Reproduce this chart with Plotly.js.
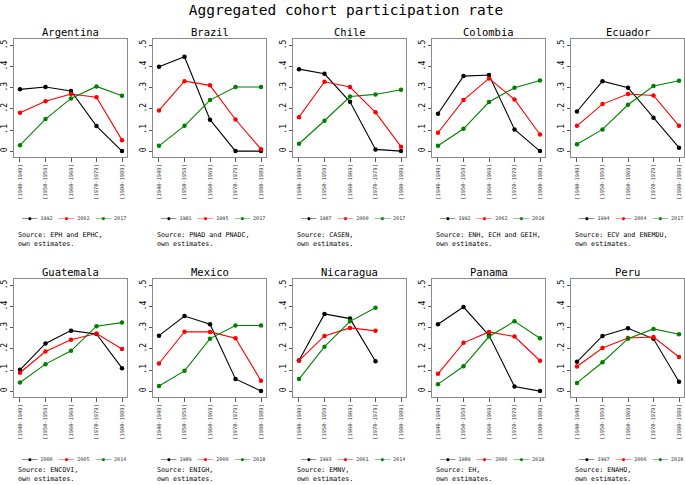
<!DOCTYPE html>
<html>
<head>
<meta charset="utf-8">
<script src="https://cdn.plot.ly/plotly-3.0.1.min.js"></script>
<style>html,body{margin:0;padding:0;background:#fff;}#chart{width:685px;height:485px;}</style>
</head>
<body>
<div id="chart"></div>
<script>
// ---------- data ----------
const cohorts = ["[1940-1949]", "[1950-1959]", "[1960-1969]", "[1970-1979]", "[1980-1989]"];
const yTickVals = [0, 0.1, 0.2, 0.3, 0.4, 0.5];
const yTickText = ["0", ".1", ".2", ".3", ".4", ".5"];
const seriesColors = ["#000000", "#ff0000", "#008000"];
const chartTitle = "Aggregated cohort participation rate";

const countries = ["Argentina", "Brazil", "Chile", "Colombia", "Ecuador",
                   "Guatemala", "Mexico", "Nicaragua", "Panama", "Peru"];

const argentinaYears = ["1992", "2002", "2017"];
const argentinaValues = [
  [0.293, 0.304, 0.285, 0.119, 0.000],
  [0.182, 0.237, 0.271, 0.256, 0.052],
  [0.028, 0.152, 0.250, 0.307, 0.263]];
const brazilYears = ["1981", "1995", "2017"];
const brazilValues = [
  [0.400, 0.448, 0.149, 0.000, 0.000],
  [0.193, 0.332, 0.312, 0.150, 0.009],
  [0.025, 0.120, 0.242, 0.304, 0.304]];
const chileYears = ["1987", "2000", "2017"];
const chileValues = [
  [0.389, 0.367, 0.234, 0.008, 0.000],
  [0.161, 0.329, 0.304, 0.184, 0.021],
  [0.035, 0.144, 0.259, 0.269, 0.291]];
const colombiaYears = ["1992", "2002", "2018"];
const colombiaValues = [
  [0.177, 0.356, 0.361, 0.103, 0.000],
  [0.087, 0.242, 0.345, 0.245, 0.079],
  [0.025, 0.106, 0.233, 0.301, 0.335]];
const ecuadorYears = ["1994", "2004", "2017"];
const ecuadorValues = [
  [0.188, 0.332, 0.301, 0.158, 0.016],
  [0.120, 0.223, 0.271, 0.264, 0.120],
  [0.033, 0.103, 0.220, 0.309, 0.334]];
const guatemalaYears = ["2000", "2005", "2014"];
const guatemalaValues = [
  [0.101, 0.226, 0.287, 0.271, 0.109],
  [0.087, 0.188, 0.244, 0.273, 0.200],
  [0.041, 0.128, 0.191, 0.308, 0.325]];
const mexicoYears = ["1989", "2000", "2018"];
const mexicoValues = [
  [0.263, 0.356, 0.317, 0.058, 0.000],
  [0.131, 0.282, 0.281, 0.251, 0.049],
  [0.024, 0.096, 0.249, 0.311, 0.311]];
const nicaraguaYears = ["1993", "2001", "2014"];
const nicaraguaValues = [
  [0.145, 0.366, 0.344, 0.142],
  [0.145, 0.262, 0.300, 0.286],
  [0.057, 0.211, 0.331, 0.396]];
const panamaYears = ["1989", "2006", "2018"];
const panamaValues = [
  [0.317, 0.399, 0.265, 0.022, 0.000],
  [0.082, 0.229, 0.281, 0.259, 0.144],
  [0.033, 0.118, 0.259, 0.331, 0.251]];
const peruYears = ["1997", "2006", "2018"];
const peruValues = [
  [0.139, 0.262, 0.298, 0.248, 0.044],
  [0.117, 0.204, 0.252, 0.257, 0.162],
  [0.039, 0.137, 0.249, 0.295, 0.270]];

const sourceNotes = [
  "Source: EPH and EPHC,", "Source: PNAD and PNADC,", "Source: CASEN,",
  "Source: ENH, ECH and GEIH,", "Source: ECV and ENEMDU,", "Source: ENCOVI,",
  "Source: ENIGH,", "Source: EMNV,", "Source: EH,", "Source: ENAHO,"];
const sourceSuffix = "own estimates.";

// ---------- build ----------
const yearsList = [argentinaYears, brazilYears, chileYears, colombiaYears, ecuadorYears,
  guatemalaYears, mexicoYears, nicaraguaYears, panamaYears, peruYears];
const valuesList = [argentinaValues, brazilValues, chileValues, colombiaValues, ecuadorValues,
  guatemalaValues, mexicoValues, nicaraguaValues, panamaValues, peruValues];

const W = 685, H = 485;
const colLeftPx = [14, 153, 293, 432, 571];
const boxW = 113;
const rowTopPx = [39, 279], rowBotPx = [157, 397];
const titleYPx = [32, 272];
const legendYPx = [218, 459];
const sourceYPx = [239, 474];
const mono = "DejaVu Sans Mono";

const traces = [];
const layout = {
  width: W, height: H,
  margin: {l: 0, r: 0, t: 0, b: 0},
  paper_bgcolor: "#ffffff", plot_bgcolor: "#ffffff",
  showlegend: false,
  font: {family: mono, color: "#000"},
  title: {text: chartTitle, font: {family: mono, size: 14.5, color: "#000"},
          x: 346 / W, xanchor: "center", y: 1 - 10 / H, yanchor: "middle"},
  annotations: []
};

countries.forEach((name, i) => {
  const row = Math.floor(i / 5), col = i % 5;
  const n = i + 1;
  const xa = "x" + (n === 1 ? "" : n), ya = "y" + (n === 1 ? "" : n);
  const x0 = colLeftPx[col], x1 = x0 + boxW;
  const dx = [x0 / W, x1 / W];
  const dy = [1 - rowBotPx[row] / H, 1 - rowTopPx[row] / H];

  layout["xaxis" + (n === 1 ? "" : n)] = {
    domain: dx, anchor: ya, type: "category",
    categoryorder: "array", categoryarray: cohorts,
    tickvals: cohorts, ticktext: cohorts,
    range: [-0.235, 4.196],
    tickangle: -90, tickfont: {family: mono, size: 5.4, color: "#333"},
    ticks: "outside", ticklen: 4, tickcolor: "#555", tickwidth: 1,
    showline: true, linecolor: "#8a8a8a", linewidth: 1, mirror: true,
    showgrid: false, zeroline: false, fixedrange: true
  };
  layout["yaxis" + (n === 1 ? "" : n)] = {
    domain: dy, anchor: xa,
    range: [-0.028, 0.532],
    tickvals: yTickVals, ticktext: yTickText,
    tickangle: -90, tickfont: {family: mono, size: 8, color: "#000"},
    ticks: "outside", ticklen: 3, tickcolor: "#555", tickwidth: 1,
    showline: true, linecolor: "#8a8a8a", linewidth: 1, mirror: true,
    showgrid: false, zeroline: false, fixedrange: true
  };

  const yrs = yearsList[i], vals = valuesList[i];
  vals.forEach((v, k) => {
    traces.push({
      type: "scatter", mode: "lines+markers",
      x: cohorts.slice(0, v.length), y: v,
      name: yrs[k], xaxis: xa, yaxis: ya,
      line: {color: seriesColors[k], width: 1.1},
      marker: {color: seriesColors[k], size: 4.5, symbol: "circle"},
      hoverinfo: "skip"
    });
  });

  // panel title
  layout.annotations.push({
    text: name, xref: "paper", yref: "paper",
    x: (x0 + x1) / 2 / W, y: 1 - titleYPx[row] / H,
    xanchor: "center", yanchor: "middle", showarrow: false,
    font: {family: mono, size: 10.5, color: "#000"}
  });

  // legend (keys built from series colours and years)
  const legendText = yrs.map((yr, k) =>
    '<span style="color:' + seriesColors[k] + '">──●──</span> ' + yr).join("  ");
  layout.annotations.push({
    text: legendText, xref: "paper", yref: "paper",
    x: (x0 + 5) / W, y: 1 - legendYPx[row] / H,
    xanchor: "left", yanchor: "middle", showarrow: false,
    font: {family: mono, size: 5.1, color: "#333"}
  });

  // source note
  layout.annotations.push({
    text: sourceNotes[i] + "<br>" + sourceSuffix, xref: "paper", yref: "paper",
    x: (x0 + 2) / W, y: 1 - sourceYPx[row] / H,
    xanchor: "left", yanchor: "middle", align: "left", showarrow: false,
    font: {family: mono, size: 6.7, color: "#000"}
  });
});

Plotly.newPlot("chart", traces, layout, {staticPlot: true, displayModeBar: false});
</script>
</body>
</html>
